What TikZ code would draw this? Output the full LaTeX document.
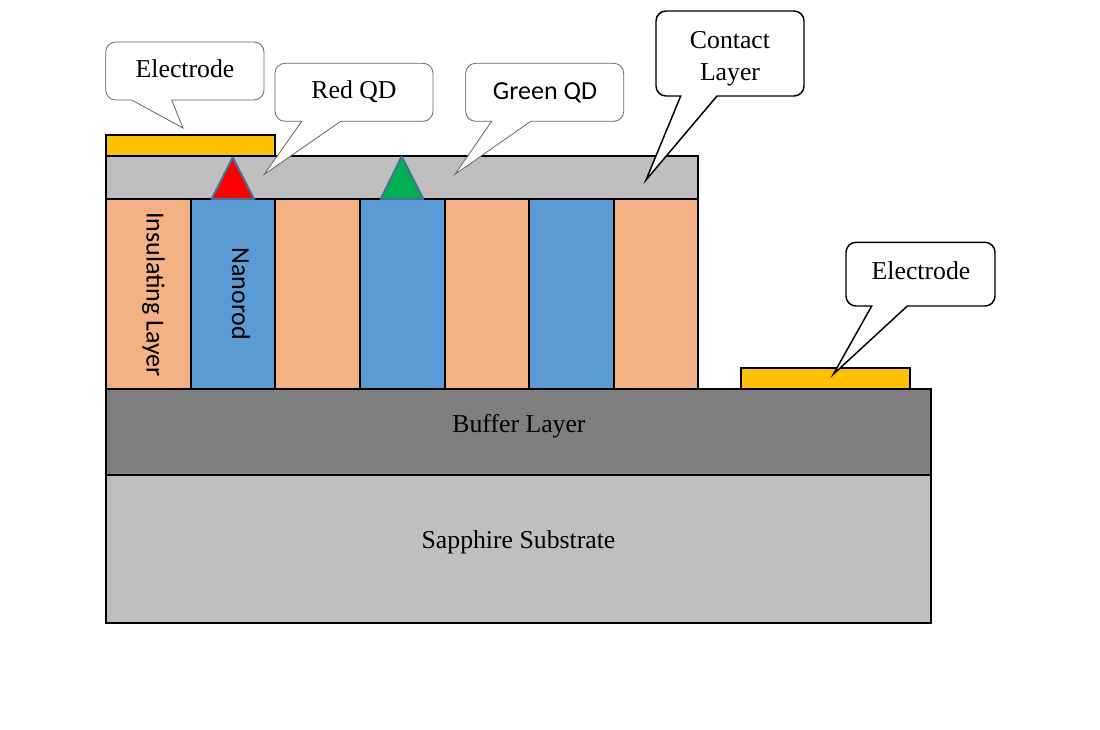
\documentclass[tikz,border=0pt]{standalone}
\usepackage{fontspec}
\setmainfont{Liberation Serif}
\newfontfamily\calibrilike{Carlito}
\definecolor{peach}{HTML}{F4B183}
\definecolor{rodblue}{HTML}{5B9BD5}
\definecolor{contactgray}{HTML}{BFBFBF}
\definecolor{buffergray}{HTML}{7F7F7F}
\definecolor{gold}{HTML}{FFC000}
\definecolor{dotedge}{HTML}{41719C}
\definecolor{dotgreen}{HTML}{00B050}
\tikzset{
    layer/.style={draw=black,line width=1.5pt},
    qdot/.style={draw=dotedge,line width=1.5pt,line join=round},
    calloutthin/.style={draw=black!60,fill=white,line width=0.6pt},
    calloutthick/.style={draw=black,fill=white,line width=1.1pt},
    serlabel/.style={font=\fontsize{19.3pt}{23pt}\selectfont,inner sep=0pt,anchor=base},
    sanslabel/.style={font=\calibrilike\fontsize{19.5pt}{23pt}\selectfont,inner sep=0pt,anchor=base},
}
% style, left, top, right, bottom, pointer base left, pointer base right, tip x, tip y
\newcommand{\callout}[9]{
    \draw[#1] (#6,#5) [rounded corners=7.5pt] -- (#2,#5) -- (#2,#3) -- (#4,#3) -- (#4,#5) -- +(-30,0) [sharp corners] -- (#7,#5) -- (#8,#9) -- cycle;
}
\begin{document}
\begin{tikzpicture}[x=0.75pt,y=-0.75pt]
    \useasboundingbox (0,0) rectangle (1100,729);
    \fill[white] (0,0) rectangle (1100,729);

    % substrate and buffer
    \draw[layer,fill=contactgray] (106,475) rectangle (931,623);
    \draw[layer,fill=buffergray] (106,389) rectangle (931,475);

    % nanorods and insulating columns
    \foreach \xa/\xb/\col in {106/190.5/peach,190.5/275/rodblue,275/359.5/peach,359.5/444.5/rodblue,444.5/529/peach,529/614/rodblue,614/698/peach} {
        \draw[layer,fill=\col] (\xa,198.5) rectangle (\xb,389);
    }

    % contact layer and electrodes
    \draw[layer,fill=contactgray] (106,156) rectangle (698,198.5);
    \draw[layer,fill=gold] (106,135) rectangle (275,156);
    \draw[layer,fill=gold] (740.5,367.5) rectangle (910,389);

    % quantum dots
    \draw[qdot,fill=red] (232.7,157.5) -- (254,199) -- (211.7,199) -- cycle;
    \draw[qdot,fill=dotgreen] (401.7,156.5) -- (423.3,199) -- (380.7,199) -- cycle;

    % callouts
    \callout{calloutthin}{105.7}{42}{264}{100}{131.7}{171.7}{183}{128}
    \callout{calloutthin}{275}{63.3}{433}{121.3}{301.7}{340.7}{264.3}{174.3}
    \callout{calloutthin}{465.7}{63.3}{623.7}{121.3}{491.7}{530.7}{455}{174.3}
    \callout{calloutthick}{656}{11}{804}{96}{680.7}{717}{646}{180}
    \callout{calloutthick}{846}{242.3}{995}{306}{871.7}{907.3}{833.3}{374.3}

    % labels
    \node[serlabel] (electrodeleft) at (185,77.3) {Electrode};
    \node[serlabel] (redqd) at (354,98.3) {Red QD};
    \node[sanslabel] (greenqd) at (545,99.5) {Green QD};
    \node[serlabel] (contactone) at (730,48.3) {Contact};
    \node[serlabel] (contacttwo) at (730,80) {Layer};
    \node[serlabel] (electroderight) at (921,279) {Electrode};
    \node[serlabel] (buffer) at (519,432) {Buffer Layer};
    \node[serlabel] (sapphire) at (518.5,548) {Sapphire Substrate};
    \node[sanslabel,rotate=-90,anchor=center] (insulating) at (153.5,294.5) {Insulating Layer};
    \node[sanslabel,rotate=-90,anchor=center] (nanorod) at (241,294) {Nanorod};
\end{tikzpicture}
\end{document}
